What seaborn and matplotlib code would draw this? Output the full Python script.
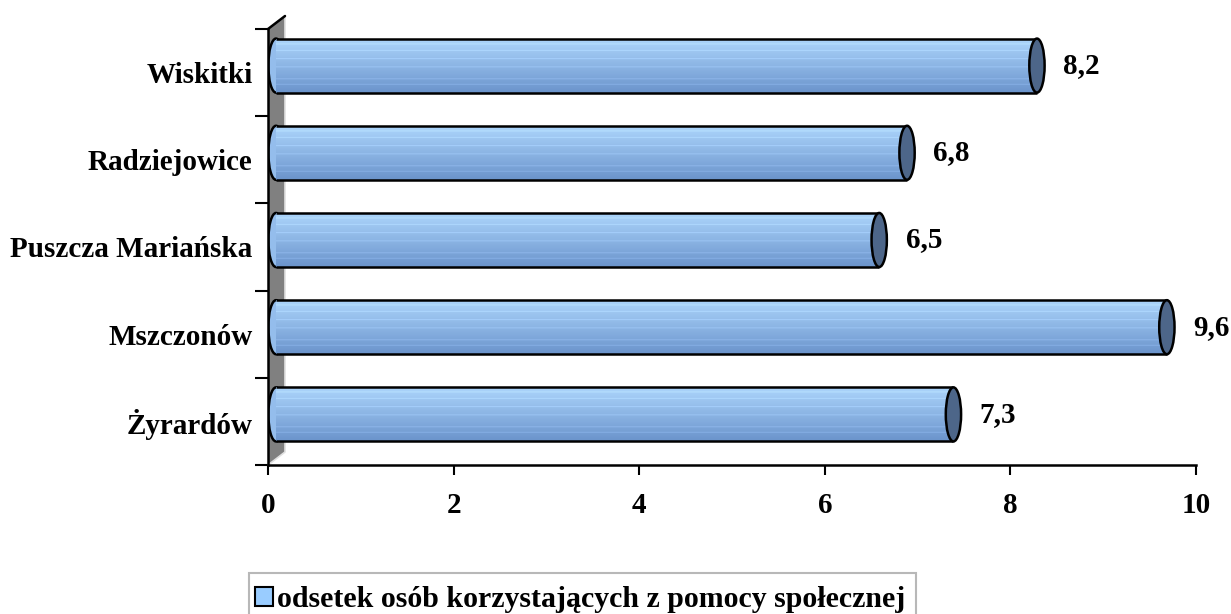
import numpy as np
import pandas as pd
import matplotlib
matplotlib.use('Agg')
import matplotlib.pyplot as plt
import matplotlib.transforms as mtransforms
from matplotlib.patches import Ellipse, Polygon, Patch, Rectangle
import seaborn as sns

# data
gminy = ['Wiskitki', 'Radziejowice', 'Puszcza Mariańska', 'Mszczonów', 'Żyrardów']
odsetek = [8.2, 6.8, 6.5, 9.6, 7.3]
x_ticks = [0, 2, 4, 6, 8, 10]
legend_label = 'odsetek osób korzystających z pomocy społecznej'

df = pd.DataFrame({'gmina': gminy, 'odsetek': odsetek})

sns.set_style('white')
plt.rcParams['font.family'] = ['Liberation Serif', 'DejaVu Serif']
plt.rcParams['font.weight'] = 'bold'
plt.rcParams['text.color'] = 'black'
plt.rcParams['xtick.color'] = 'black'
plt.rcParams['ytick.color'] = 'black'

fig = plt.figure(figsize=(12.31, 6.14), dpi=100)
ax = fig.add_axes([268 / 1231, 1 - 465 / 614, 928 / 1231, 436 / 614])

sns.barplot(data=df, x='odsetek', y='gmina', orient='h', order=gminy,
            width=0.62, color='#8db8ea', edgecolor='none', linewidth=0, ax=ax)

# 3d depth offset of the bars
off = mtransforms.offset_copy(ax.transData, fig=fig, x=8, y=7, units='dots')

# gradient for cylinder body (top light -> bottom darker, with faint stripes)
n = 60
t = np.linspace(0, 1, n)
top = np.array([0.68, 0.84, 0.99])
bot = np.array([0.42, 0.58, 0.80])
grad = top[None, :] * (1 - t[:, None]) + bot[None, :] * t[:, None]
for r in [6, 13, 22, 31, 44, 50]:
    grad[r] = np.clip(grad[r] + 0.07, 0, 1)
img = grad[:, None, :]

ew = 0.165  # ellipse width in data units
for p in list(ax.patches):
    x0, w = p.get_x(), p.get_width()
    y0, h = p.get_y(), p.get_height()
    yc = y0 + h / 2
    # left rounded end
    ax.add_patch(Ellipse((x0, yc), ew, h, facecolor='#94bdec', edgecolor='black',
                         lw=1.8, transform=off, zorder=2))
    p.set_transform(off)
    p.set_zorder(3)
    im = ax.imshow(img, extent=(x0, x0 + w, y0 + h, y0), origin='upper',
                   aspect='auto', transform=off, zorder=3.1, interpolation='bilinear')
    im.set_clip_path(p)
    ax.plot([x0, x0 + w], [y0, y0], color='black', lw=1.8, transform=off, zorder=4,
            solid_capstyle='butt')
    ax.plot([x0, x0 + w], [y0 + h, y0 + h], color='black', lw=1.8, transform=off,
            zorder=4, solid_capstyle='butt')
    # right end cap
    ax.add_patch(Ellipse((x0 + w, yc), ew, h, facecolor='#4d6689', edgecolor='black',
                         lw=1.8, transform=off, zorder=5))
    ax.annotate(f'{w:.1f}'.replace('.', ','), xy=(x0 + w, yc), xycoords=off,
                xytext=(19, 0), textcoords='offset points', ha='left', va='center',
                fontsize=21, fontweight='bold', annotation_clip=False, zorder=6)

ax.set_xlim(0, 10)
ax.set_ylim(4.5, -0.5)
ax.set_xticks(x_ticks)
ax.set_xticklabels([str(v) for v in x_ticks], fontsize=21, fontweight='bold')
ax.set_yticks(range(len(gminy)))
ax.set_yticklabels(gminy, fontsize=21, fontweight='bold')
ax.set_yticks(np.arange(-0.5, len(gminy), 1.0), minor=True)
ax.tick_params(axis='y', which='major', length=0, pad=11)
ax.tick_params(axis='y', which='minor', left=True, length=9.5, width=1.5, color='black', direction='out')
ax.tick_params(axis='x', which='major', bottom=True, length=7.5, width=1.5, color='black',
               direction='out', pad=12)
ax.set_xlabel('')
ax.set_ylabel('')
ax.grid(False)
for s in ['top', 'right']:
    ax.spines[s].set_visible(False)
for s in ['left', 'bottom']:
    ax.spines[s].set_color('black')
    ax.spines[s].set_linewidth(1.8)
    ax.spines[s].set_zorder(7)

# legend (frame drawn separately so the box can start higher above the text)
handle = Patch(facecolor='#99ccff', edgecolor='black', linewidth=1.5)
leg = fig.legend([handle], [legend_label], loc='upper left',
                 bbox_to_anchor=(249 / 1231, 1 - 580 / 614), borderaxespad=0,
                 frameon=False, handlelength=0.6, handleheight=0.6,
                 handletextpad=0.15, borderpad=0.2,
                 prop={'family': 'Liberation Serif', 'weight': 'bold', 'size': 21.5})

# gray side wall (behind the bars)
fig.canvas.draw()
(lx, by), (_, ty) = ax.transAxes.transform([(0, 0), (0, 1)])
dx, dy = 17, 13
ident = mtransforms.IdentityTransform()
wall = Polygon([(lx, by), (lx, ty), (lx + dx, ty + dy), (lx + dx, by + dy)],
               closed=True, facecolor='#808080', edgecolor='none',
               transform=ident, zorder=1, clip_on=False)
ax.add_artist(wall)
ax.plot([lx, lx + dx], [ty, ty + dy], color='black', lw=1.8, transform=ident,
        zorder=1.2, clip_on=False)
ax.plot([lx + dx, lx + dx, lx], [ty + dy, by + dy, by], color='#e0e0e0', lw=1.2,
        transform=ident, zorder=1.1, clip_on=False)

ext = leg.get_window_extent()
box_top = fig.bbox.height - 573
frame = Rectangle((ext.x0, -10), ext.width + 4, box_top + 10, facecolor='none',
                  edgecolor='#b8b8b8', lw=1.5, transform=ident, zorder=0)
fig.patches.append(frame)
frame.set_figure(fig)

fig.savefig('out.png', dpi=100)
